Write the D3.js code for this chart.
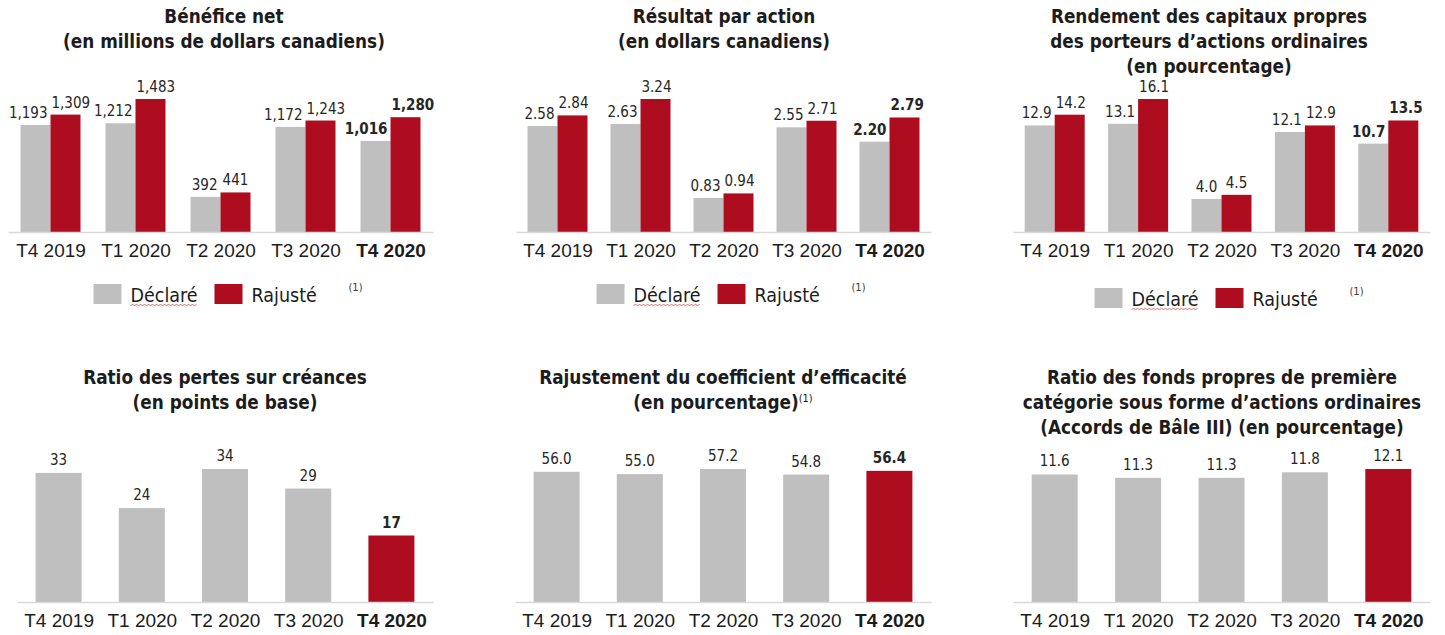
<!DOCTYPE html>
<html>
<head>
<meta charset="utf-8">
<script src="https://cdn.jsdelivr.net/npm/d3@7"></script>
<style>
  body { margin: 0; background: #fff; }
  svg { display: block; font-family: 'DejaVu Sans Condensed', 'DejaVu Sans', sans-serif; }
</style>
</head>
<body>
<script>
// quarters on the x axis
const quarters = ['T4 2019', 'T1 2020', 'T2 2020', 'T3 2020', 'T4 2020'];
const legendNames = ['Déclaré', 'Rajusté'];

// Bénéfice net (M$ CA)
const netIncomeReported = [1193, 1212, 392, 1172, 1016];
const netIncomeAdjusted = [1309, 1483, 441, 1243, 1280];
// Résultat par action ($ CA)
const epsReported = [2.58, 2.63, 0.83, 2.55, 2.20];
const epsAdjusted = [2.84, 3.24, 0.94, 2.71, 2.79];
// Rendement des capitaux propres (%)
const roeReported = [12.9, 13.1, 4.0, 12.1, 10.7];
const roeAdjusted = [14.2, 16.1, 4.5, 12.9, 13.5];
// Ratio des pertes sur créances (pb)
const pclRatio = [33, 24, 34, 29, 17];
// Coefficient d'efficacité rajusté (%)
const efficiencyRatio = [56.0, 55.0, 57.2, 54.8, 56.4];
// Ratio CET1 (%)
const cet1Ratio = [11.6, 11.3, 11.3, 11.8, 12.1];

const GREY = '#bfbfbf';
const RED = '#ae0c1f';
const TXT = '#1c1c1c';
const BAR_MAX = 133; // tallest bar height in every panel

const svg = d3.select('body').append('svg')
  .attr('width', 1445)
  .attr('height', 635);

const colorScale = d3.scaleOrdinal()
  .domain(legendNames)
  .range([GREY, RED]);

// grouped panels (top row)
const groupedPanels = [
  { title: ['Bénéfice net', '(en millions de dollars canadiens)'], series: [netIncomeReported, netIncomeAdjusted],
    fmt: d3.format(','), x0: 8, x1: 433, axisY: 232, titleX: 224, legendY: 284 },
  { title: ['Résultat par action', '(en dollars canadiens)'], series: [epsReported, epsAdjusted],
    fmt: d3.format('.2f'), x0: 516, x1: 931, axisY: 232, titleX: 724, legendY: 284 },
  { title: ['Rendement des capitaux propres', 'des porteurs d\u2019actions ordinaires', '(en pourcentage)'], series: [roeReported, roeAdjusted],
    fmt: d3.format('.1f'), x0: 1013, x1: 1430, axisY: 232, titleX: 1209, legendY: 288 }
];

// single series panels (bottom row)
const singlePanels = [
  { title: ['Ratio des pertes sur créances', '(en points de base)'], values: pclRatio,
    fmt: d3.format('d'), x0: 17, x1: 433, axisY: 602, titleX: 225, boldLast: true },
  { title: ['Rajustement du coefficient d\u2019efficacité', '(en pourcentage)'], values: efficiencyRatio, sup: true,
    fmt: d3.format('.1f'), x0: 515, x1: 931, axisY: 602, titleX: 723, boldLast: true },
  { title: ['Ratio des fonds propres de première', 'catégorie sous forme d\u2019actions ordinaires', '(Accords de Bâle III) (en pourcentage)'], values: cet1Ratio,
    fmt: d3.format('.1f'), x0: 1013, x1: 1430, axisY: 602, titleX: 1222, boldLast: false }
];

function drawTitle(g, lines, x, y, sup) {
  const t = g.append('text')
    .attr('text-anchor', 'middle')
    .attr('font-size', 18.8)
    .attr('font-weight', 'bold')
    .attr('fill', TXT);
  lines.forEach((line, i) => {
    t.append('tspan').attr('x', x).attr('y', y + i * 25).text(line);
  });
  if (sup) {
    t.append('tspan')
      .attr('font-size', 11)
      .attr('font-weight', 'normal')
      .attr('dy', -7)
      .text('(1)');
  }
}

function drawAxis(g, xScale, axisY) {
  const axis = d3.axisBottom(xScale).tickSize(0).tickPadding(12);
  const ax = g.append('g')
    .attr('transform', `translate(0,${axisY})`)
    .call(axis);
  ax.select('.domain').attr('stroke', '#d9d9d9').attr('stroke-width', 1.5);
  ax.selectAll('text')
    .attr('font-family', null)
    .attr('font-size', 19)
    .attr('fill', TXT)
    .attr('font-weight', (d, i) => (i === quarters.length - 1 ? 'bold' : 'normal'));
}

groupedPanels.forEach((p) => {
  const g = svg.append('g');
  drawTitle(g, p.title, p.titleX, 23);

  const xScale = d3.scalePoint().domain(quarters).range([p.x0, p.x1]).padding(0.5);
  const inner = d3.scaleBand().domain(legendNames).range([-30, 30]);
  const yScale = d3.scaleLinear()
    .domain([0, d3.max(p.series.flat())])
    .range([p.axisY, p.axisY - BAR_MAX]);

  const rows = [];
  p.series.forEach((vals, s) => {
    vals.forEach((v, i) => rows.push({ q: quarters[i], i, s, name: legendNames[s], v }));
  });

  g.selectAll('rect')
    .data(rows)
    .enter()
    .append('rect')
    .attr('x', d => xScale(d.q) + inner(d.name))
    .attr('width', inner.bandwidth())
    .attr('y', d => yScale(d.v))
    .attr('height', d => p.axisY - yScale(d.v))
    .attr('fill', d => colorScale(d.name));

  drawAxis(g, xScale, p.axisY);

  g.selectAll('text.val')
    .data(rows)
    .enter()
    .append('text')
    .attr('class', 'val')
    .attr('text-anchor', 'middle')
    .attr('font-size', 15)
    .attr('fill', '#262626')
    .attr('font-weight', d => (d.i === quarters.length - 1 ? 'bold' : 'normal'))
    .attr('y', d => yScale(d.v) - 7)
    .text(d => p.fmt(d.v))
    .attr('x', function (d) {
      const w = this.getComputedTextLength();
      const left = xScale(d.q) + inner(d.name);
      const right = left + inner.bandwidth();
      const cx = (left + right) / 2;
      // keep the two labels of a pair apart
      if (d.s === 0) return Math.min(cx + w / 2, right - 3) - w / 2;
      return Math.max(cx - w / 2, left + 1) + w / 2;
    });

  // legend
  const mid = (p.x0 + p.x1) / 2;
  const lg = g.append('g').attr('transform', `translate(${mid},${p.legendY})`);
  const items = [{ name: legendNames[0], x: -127 }, { name: legendNames[1], x: -6 }];
  items.forEach((it) => {
    lg.append('rect').attr('x', it.x).attr('y', 0).attr('width', 28).attr('height', 20)
      .attr('fill', colorScale(it.name));
    const t = lg.append('text').attr('x', it.x + 37).attr('y', 18)
      .attr('font-size', 19.5).attr('fill', TXT).text(it.name);
    if (it.name === 'Déclaré') {
      // spell-check squiggle under the word
      const w = t.node().getComputedTextLength();
      const pts = d3.range(0, Math.floor(w / 2) + 1).map(k => [it.x + 37 + k * 2, 21 + (k % 2 ? -1 : 1)]);
      lg.append('path').attr('d', d3.line()(pts)).attr('fill', 'none')
        .attr('stroke', '#e0473f').attr('stroke-width', 0.8);
    }
  });
  lg.append('text').attr('x', 128).attr('y', 7).attr('font-size', 11).attr('fill', '#404040').text('(1)');
});

singlePanels.forEach((p) => {
  const g = svg.append('g');
  drawTitle(g, p.title, p.titleX, 384, p.sup);

  const xScale = d3.scalePoint().domain(quarters).range([p.x0, p.x1]).padding(0.5);
  const yScale = d3.scaleLinear()
    .domain([0, d3.max(p.values)])
    .range([p.axisY, p.axisY - BAR_MAX]);
  const barW = 46;

  g.selectAll('rect')
    .data(p.values)
    .enter()
    .append('rect')
    .attr('x', (d, i) => xScale(quarters[i]) - barW / 2)
    .attr('width', barW)
    .attr('y', d => yScale(d))
    .attr('height', d => p.axisY - yScale(d))
    .attr('fill', (d, i) => (i === quarters.length - 1 ? RED : GREY));

  drawAxis(g, xScale, p.axisY);

  g.selectAll('text.val')
    .data(p.values)
    .enter()
    .append('text')
    .attr('class', 'val')
    .attr('text-anchor', 'middle')
    .attr('font-size', 15)
    .attr('fill', '#262626')
    .attr('font-weight', (d, i) => (p.boldLast && i === quarters.length - 1 ? 'bold' : 'normal'))
    .attr('x', (d, i) => xScale(quarters[i]))
    .attr('y', d => yScale(d) - 8)
    .text(d => p.fmt(d));
});
</script>
</body>
</html>
